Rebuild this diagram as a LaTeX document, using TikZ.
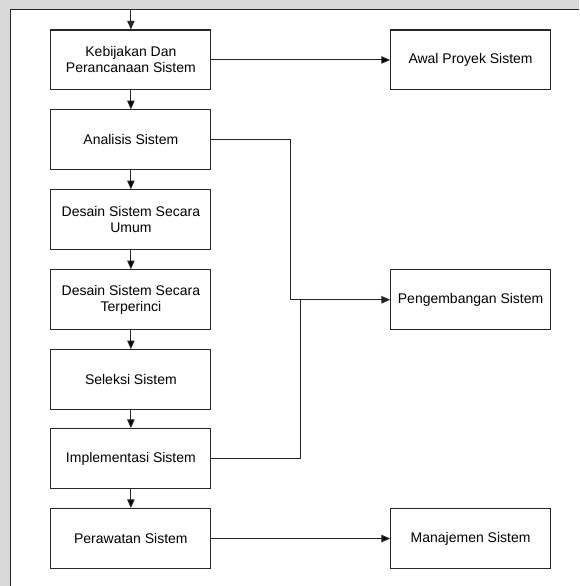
\documentclass[tikz,border=0pt]{standalone}
\usepackage{fontspec}
\setmainfont{Liberation Sans}
\usetikzlibrary{arrows.meta, positioning}

\begin{document}
\begin{tikzpicture}[x=0.75pt,y=-0.75pt,>={Triangle[length=6.5pt,width=5.5pt]},
        every node/.style={font=\fontsize{10.5}{12}\selectfont},
        proc/.style={draw=black!85,line width=0.8pt,fill=white,minimum width=120pt,minimum height=45pt,align=center,inner sep=2pt},
        link/.style={draw=black!85,line width=0.75pt}]

        % page frame
        \fill[black!15] (0,0) rectangle (579,586);
        \fill[white] (11,10) rectangle (579,586);
        \coordinate (fbl) at (11,586);
        \coordinate (ftr) at (579,10);
        \draw[link] (fbl) |- (ftr);

        \node[proc] (kebijakan) at (131,60) {Kebijakan Dan\\Perancanaan Sistem};
        \node[proc] (analisis) at (131,140) {Analisis Sistem};
        \node[proc] (umum) at (131,220) {Desain Sistem Secara\\Umum};
        \node[proc] (rinci) at (131,300) {Desain Sistem Secara\\Terperinci};
        \node[proc] (seleksi) at (131,380) {Seleksi Sistem};
        \node[proc] (implementasi) at (131,459) {Implementasi Sistem};
        \node[proc] (perawatan) at (131,539) {Perawatan Sistem};

        \node[proc] (awal) at (471,60) {Awal Proyek Sistem};
        \node[proc] (pengembangan) at (471,300) {Pengembangan Sistem};
        \node[proc] (manajemen) at (471,539) {Manajemen Sistem};

        \coordinate (start) at (131,10.5);
        \coordinate (jA) at (291,300);
        \coordinate (jB) at (301,300);

        \draw[link,->] (start) -- (kebijakan.north);
        \path[link,->] (kebijakan) edge (analisis)
            (analisis) edge (umum)
            (umum) edge (rinci)
            (rinci) edge (seleksi)
            (seleksi) edge (implementasi)
            (implementasi) edge (perawatan);

        \path[link,->] (kebijakan) edge (awal)
            (perawatan) edge (manajemen);

        \draw[link,->] (analisis.east) -| (jA) -- (pengembangan.west);
        \draw[link] (implementasi.east) -| (jB);
\end{tikzpicture}
\end{document}
